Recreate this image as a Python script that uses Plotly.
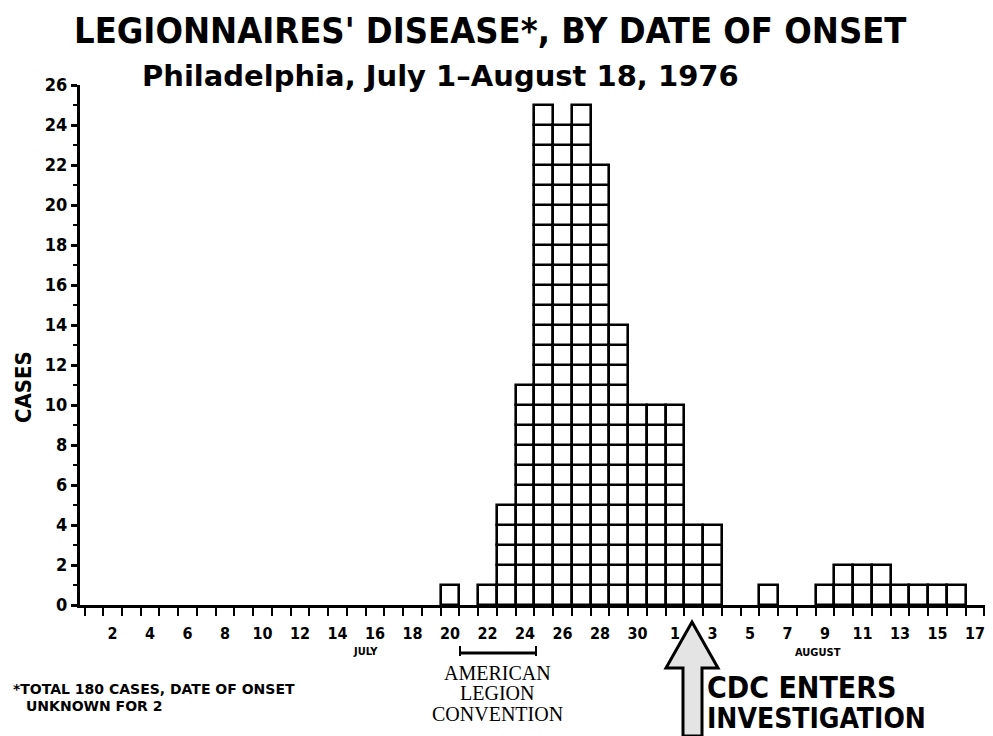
import plotly.graph_objects as go

# ---- data ----
# day index: 1 = July 1 ... 31 = July 31, 32 = Aug 1 ... 48 = Aug 17
days = list(range(1, 49))
cases = [0]*19 + [1, 0, 1, 5, 11, 25, 24, 25, 22, 14, 10, 10,   # July 20..31
         10, 4, 4, 0, 0, 1, 0, 0, 1, 2, 2, 2, 1, 1, 1, 1, 0]     # Aug 1..17
x_tick_days = list(range(2, 31, 2)) + list(range(32, 49, 2))
x_tick_text = [str(d) for d in range(2, 31, 2)] + [str(d) for d in range(1, 18, 2)]
y_tick_vals = list(range(0, 27, 2))
y_tick_text = [str(v) for v in y_tick_vals]

# one cell per case
cell_x, cell_base = [], []
for d, c in zip(days, cases):
    for k in range(c):
        cell_x.append(d)
        cell_base.append(k)

FONT = "DejaVu Sans Condensed"
WIDE = "DejaVu Sans"

fig = go.Figure()
fig.add_trace(go.Bar(
    x=cell_x, y=[1]*len(cell_x), base=cell_base, width=1,
    marker=dict(color="white", line=dict(color="black", width=2.6)),
    hoverinfo="skip", showlegend=False,
))

OFF = 8                      # page body margin
W, H = 993 - OFF, 736 - OFF
PL, PR, PT, PB = 80, 990, 85, 605   # plot box in page pixels
L, T = PL - OFF, PT - OFF
R, B = W - (PR - OFF), H - (PB - OFF)
pw, ph = PR - PL, PB - PT


def px(x):
    return (x - PL) / pw


def py(y):
    return (PB - y) / ph


annotations = []


def txt(text, x, y, size, family=FONT, weight="bold", xanchor="center", angle=0):
    annotations.append(dict(text=text, x=px(x), y=py(y), xref="paper", yref="paper",
                            showarrow=False, xanchor=xanchor, yanchor="middle",
                            textangle=angle,
                            font=dict(family=family, size=size, color="black", weight=weight)))


txt("LEGIONNAIRES' DISEASE*, BY DATE OF ONSET", 490, 31, 36, family=FONT)
txt("Philadelphia, July 1–August 18, 1976", 440, 76, 29, family=WIDE)
txt("CASES", 24, 387, 22, angle=-90)
txt("JULY", 365, 651, 11)
txt("AUGUST", 818, 652, 11)
txt("AMERICAN", 497, 673, 20, family="Liberation Serif", weight="normal")
txt("LEGION", 497, 693, 20, family="Liberation Serif", weight="normal")
txt("CONVENTION", 497, 714, 20, family="Liberation Serif", weight="normal")
txt("CDC ENTERS", 705, 688, 30, xanchor="left")
txt("INVESTIGATION", 705, 718, 28, xanchor="left")
txt("*TOTAL 180 CASES, DATE OF ONSET", 11, 689, 14, family=WIDE, xanchor="left")
txt("UNKNOWN FOR 2", 24, 706, 14, family=WIDE, xanchor="left")

shapes = []
# convention bracket
shapes.append(dict(type="line", xref="paper", yref="paper",
                   x0=px(460), x1=px(536), y0=py(653), y1=py(653),
                   line=dict(color="black", width=3)))
for xx in (460, 536):
    shapes.append(dict(type="line", xref="paper", yref="paper",
                       x0=px(xx), x1=px(xx), y0=py(646), y1=py(656),
                       line=dict(color="black", width=2)))
# CDC arrow
pts = [(692, 622), (718, 668), (702, 668), (702, 736), (683, 736), (683, 668), (666, 668)]
path = "M " + " L ".join(f"{px(a):.5f},{py(b):.5f}" for a, b in pts) + " Z"
shapes.append(dict(type="path", xref="paper", yref="paper", path=path,
                   fillcolor="#e4e4e4", line=dict(color="black", width=3)))

fig.update_layout(
    width=W, height=H,
    margin=dict(l=L, r=R, t=T, b=B, pad=0),
    paper_bgcolor="white", plot_bgcolor="white",
    barmode="overlay", bargap=0,
    annotations=annotations, shapes=shapes,
    xaxis=dict(range=[0.26, 48.8], showline=True, linecolor="black", linewidth=3,
               showgrid=False, zeroline=False,
               tickmode="array", tickvals=x_tick_days, ticktext=x_tick_text,
               ticks="", ticklabelstandoff=12,
               minor=dict(tickmode="array", tickvals=[d + 0.5 for d in range(0, 49)],
                          ticks="outside", ticklen=8, tickwidth=2, tickcolor="black"),
               tickfont=dict(family=FONT, size=16, color="black", weight="bold")),
    yaxis=dict(range=[0, 26], showline=True, linecolor="black", linewidth=3,
               showgrid=False, zeroline=False,
               tickmode="array", tickvals=y_tick_vals, ticktext=y_tick_text,
               ticks="outside", ticklen=6, tickwidth=2.5, tickcolor="black",
               minor=dict(dtick=1, ticks="outside", ticklen=4, tickwidth=2, tickcolor="black"),
               tickfont=dict(family=FONT, size=18, color="black", weight="bold")),
)

fig.write_html("out.html")
